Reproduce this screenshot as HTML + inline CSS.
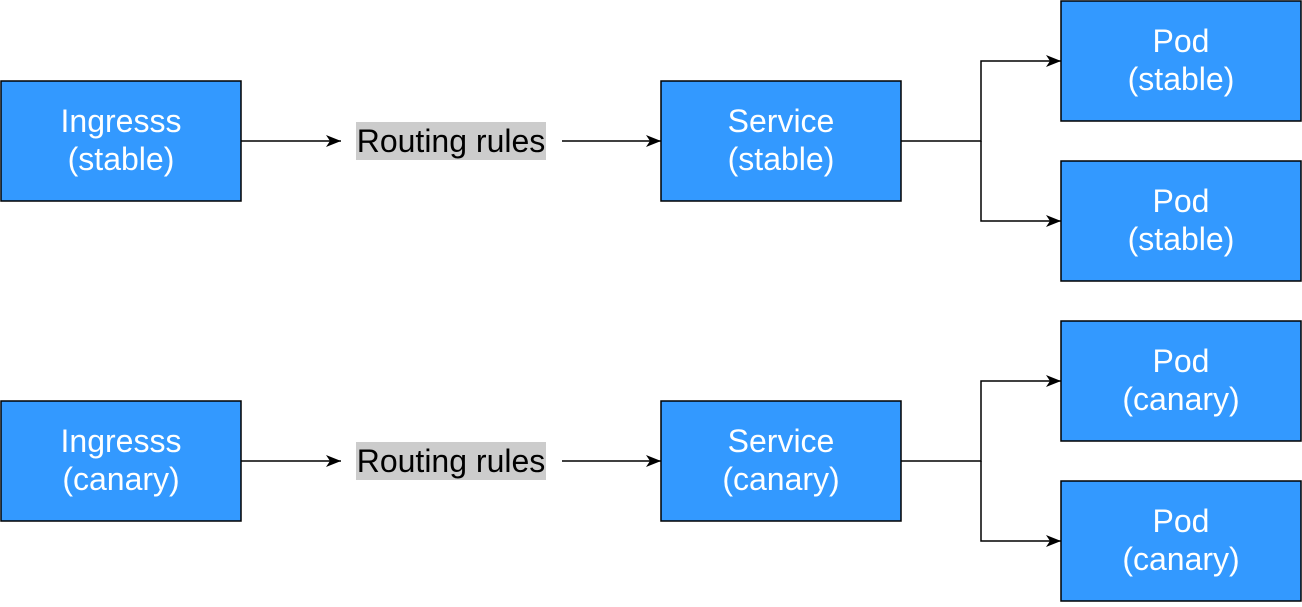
<!DOCTYPE html><html><head><style>body{margin:0;background:#fff;width:1302px;height:602px;overflow:hidden}</style></head><body>
<svg width="1302" height="602" xmlns="http://www.w3.org/2000/svg" font-family="Liberation Sans, Arial, sans-serif">
<defs><marker id="a" markerWidth="16" markerHeight="14" refX="15" refY="7" orient="auto" markerUnits="userSpaceOnUse"><path d="M0,1 L15,7 L0,13 L4,7z" fill="#000"/></marker></defs>
<g fill="#3399FF" stroke="#000" stroke-width="1.5">
<rect x="1" y="81" width="240" height="120"/><rect x="661" y="81" width="240" height="120"/>
<rect x="1061" y="1" width="240" height="120"/><rect x="1061" y="161" width="240" height="120"/>
<rect x="1" y="401" width="240" height="120"/><rect x="661" y="401" width="240" height="120"/>
<rect x="1061" y="321" width="240" height="120"/><rect x="1061" y="481" width="240" height="120"/>
</g>
<rect x="356" y="122" width="190" height="38" fill="#cccccc"/><rect x="356" y="442" width="190" height="38" fill="#cccccc"/>
<g stroke="#000" stroke-width="1.5" fill="none" marker-end="url(#a)">
<path d="M241,141H341"/><path d="M562,141H661"/><path d="M901,141H981V61H1061"/><path d="M981,141V221H1061"/>
<path d="M241,461H341"/><path d="M562,461H661"/><path d="M901,461H981V381H1061"/><path d="M981,461V541H1061"/>
</g>
<g font-size="32" fill="#fff" text-anchor="middle">
<text x="121" y="132">Ingresss</text><text x="121" y="170">(stable)</text>
<text x="781" y="132">Service</text><text x="781" y="170">(stable)</text>
<text x="1181" y="52">Pod</text><text x="1181" y="90">(stable)</text>
<text x="1181" y="212">Pod</text><text x="1181" y="250">(stable)</text>
<text x="121" y="452">Ingresss</text><text x="121" y="490">(canary)</text>
<text x="781" y="452">Service</text><text x="781" y="490">(canary)</text>
<text x="1181" y="372">Pod</text><text x="1181" y="410">(canary)</text>
<text x="1181" y="532">Pod</text><text x="1181" y="570">(canary)</text>
</g>
<g font-size="32" fill="#000" text-anchor="middle">
<text x="451" y="152">Routing rules</text><text x="451" y="472">Routing rules</text>
</g>
</svg></body></html>
